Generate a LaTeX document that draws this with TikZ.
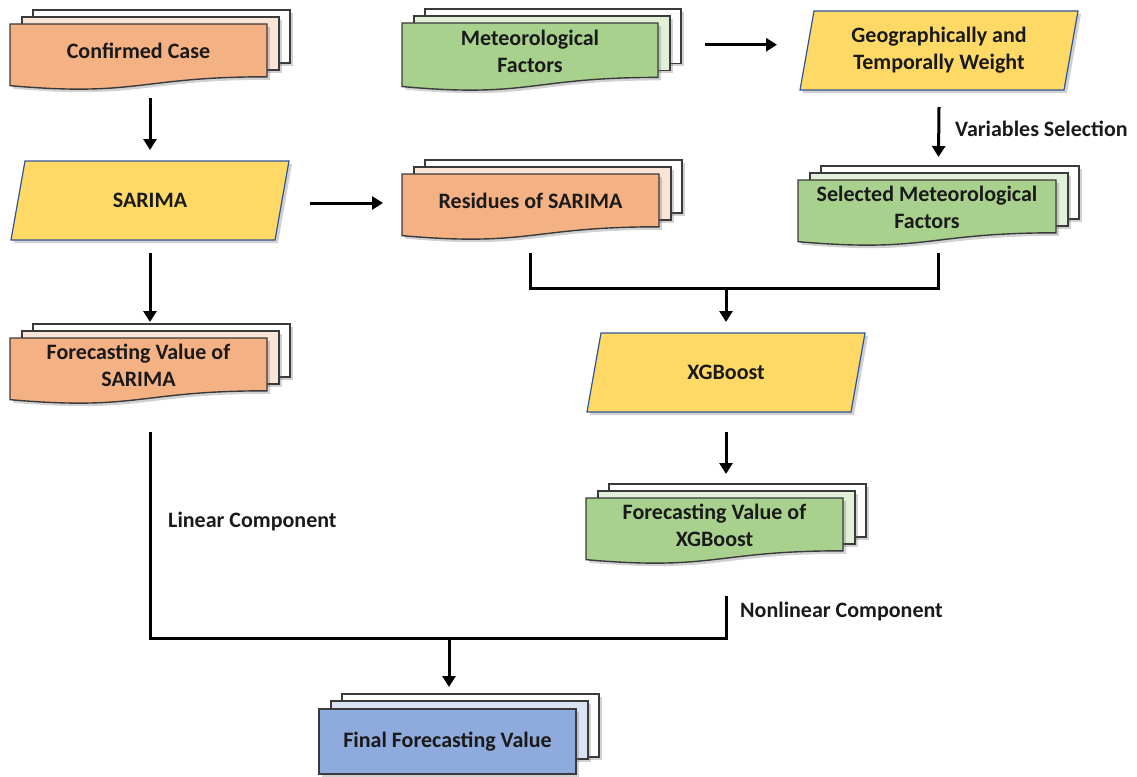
\documentclass[tikz,border=0pt]{standalone}
\usepackage{fontspec}
\setmainfont{Carlito}
\usetikzlibrary{arrows.meta,calc,shadows}
\definecolor{orF}{HTML}{F4B183}
\definecolor{orM}{HTML}{FBE5D6}
\definecolor{grF}{HTML}{A9D18E}
\definecolor{grM}{HTML}{E2F0D9}
\definecolor{blF}{HTML}{8FAADC}
\definecolor{blM}{HTML}{DAE3F3}
\definecolor{yel}{HTML}{FFD966}
\definecolor{yelB}{HTML}{2F5597}
\definecolor{docB}{HTML}{3A3A3A}
\definecolor{txtC}{HTML}{1A1A1A}
\tikzset{
  shad/.style={drop shadow={shadow xshift=3pt, shadow yshift=-3pt, opacity=0.3, fill=black!60}},
  docb/.style={draw=docB, line width=1.4, line join=miter, shad},
  parab/.style={draw=yelB, line width=1.2, line join=miter, fill=yel, shad},
  txt/.style={font=\fontsize{22}{27}\selectfont\bfseries, align=center, text=txtC, inner sep=0},
  lbl/.style={font=\fontsize{22}{27}\selectfont\bfseries, text=txtC, inner sep=0, anchor=west},
  conn/.style={line width=3, line join=miter, draw=black},
  arr/.style={conn, -{Triangle[width=13pt,length=11pt]}},
  hold/.style={inner sep=0, outer sep=0, draw=none}
}
% multi-document with wavy bottom: name, x, y, w, h, front, mid, text
\newcommand\mdoc[8]{%
  \path[docb, fill=white] (#2+23,#3-14) rectangle (#2+#4+23,#3+0.8*#5-14);
  \path[docb, fill=#7] (#2+12,#3-7) rectangle (#2+#4+12,#3+0.8*#5-7);
  \path[docb, fill=#6] (#2,#3) -- (#2+#4,#3) -- (#2+#4,#3+0.8*#5)
     .. controls (#2+0.5*#4,#3+0.8*#5) and (#2+0.5*#4,#3+1.107*#5) .. (#2,#3+0.934*#5) -- cycle;
  \node[hold, minimum width=#4+23, minimum height=0.934*#5+14] (#1) at (#2+11.5+0.5*#4, #3-7+0.467*#5) {};
  \node[txt] (#1-t) at (#2+0.5*#4, #3+0.41*#5) {#8};
}
% multi-document with straight bottom
\newcommand\mdocr[8]{%
  \path[docb, fill=white] (#2+23,#3-15) rectangle (#2+#4+23,#3+#5-17);
  \path[docb, fill=#7] (#2+12,#3-8) rectangle (#2+#4+12,#3+#5-15);
  \path[docb, fill=#6] (#2,#3) rectangle (#2+#4,#3+#5);
  \node[hold, minimum width=#4+23, minimum height=#5+15] (#1) at (#2+11.5+0.5*#4, #3-7.5+0.5*#5) {};
  \node[txt] (#1-t) at (#2+0.5*#4, #3+0.5*#5) {#8};
}
% parallelogram: name, cx, cy, text
\newcommand\para[4]{%
  \node[hold, minimum width=278, minimum height=79] (#1) at (#2,#3) {};
  \path[parab] ($(#1.north west)+(14,0)$) -- (#1.north east) -- ($(#1.south east)+(-14,0)$) -- (#1.south west) -- cycle;
  \node[txt] (#1-t) at (#1) {#4};
}
\begin{document}
\begin{tikzpicture}[x=1pt,y=-1pt]
\useasboundingbox (0,0) rectangle (1137,776);

\mdoc{cc}{10}{24}{257}{66}{orF}{orM}{Confirmed Case}
\mdoc{mf}{402}{23}{256}{68}{grF}{grM}{Meteorological\\Factors}
\para{gtw}{939}{50.5}{Geographically and\\Temporally Weight}
\para{sar}{150}{200.5}{SARIMA}
\mdoc{res}{402}{174}{257}{66}{orF}{orM}{Residues of SARIMA}
\mdoc{smf}{798}{180}{258}{66}{grF}{grM}{Selected Meteorological\\Factors}
\mdoc{fvs}{10}{338}{257}{66}{orF}{orM}{Forecasting Value of\\SARIMA}
\para{xgb}{726}{372.5}{XGBoost}
\mdoc{fvx}{586}{498}{257}{66}{grF}{grM}{Forecasting Value of\\XGBoost}
\mdocr{fin}{319}{709}{257}{65}{blF}{blM}{Final Forecasting Value}

% connectors
\draw[arr] ($(cc.south)+(0,12)$) -- ($(sar.north)+(0,-11)$);
\path ($(gtw.west)+(-23,0)$) coordinate (g1);
\draw[arr] ($(mf.east)+(24,-3)$) coordinate (a1) -- (g1 |- a1);
\path ($(res.west)+(-19,0)$) coordinate (r1);
\draw[arr] ($(sar.east)+(21,2.5)$) coordinate (a2) -- (r1 |- a2);
\draw[arr] ($(sar.south)+(0,13)$) -- ($(fvs.north)+(0,-2)$);
\draw[arr] ($(gtw.south)+(0,17)$) -- ($(smf.north)+(0,-9)$);
\node[lbl] (vs) at ($(gtw.south)+(16,39)$) {Variables Selection};

\coordinate (j1) at ($(smf.south)+(0,47)$);
\draw[conn] ($(res.south)+(-12,17)$) |- (j1) -- ($(smf.south)+(0,11)$);
\draw[arr] (xgb.north |- j1) -- ($(xgb.north)+(0,-11)$);
\draw[arr] ($(xgb.south)+(0,20)$) -- ($(fvx.north)+(0,-10)$);

\coordinate (j2) at ($(fvx.south)+(0,78.4)$);
\draw[conn] ($(fvs.south)+(0,32)$) |- (j2) -- ($(fvx.south)+(0,36)$);
\coordinate (f1) at ($(fin.north west)+(130,-7)$);
\draw[arr] (f1 |- j2) -- (f1);

\node[lbl] (lin) at ($(fvs.south)+(18,122)$) {Linear Component};
\node[lbl] (nonlin) at ($(fvx.south)+(14,52)$) {Nonlinear Component};
\end{tikzpicture}
\end{document}
